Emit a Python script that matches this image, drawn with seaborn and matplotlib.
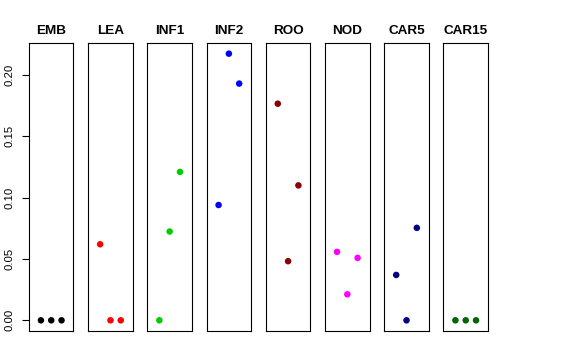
import matplotlib
matplotlib.use("Agg")
import matplotlib.pyplot as plt
import seaborn as sns
import pandas as pd

sns.set_style("white")
plt.rcParams['font.family'] = ['Liberation Sans', 'DejaVu Sans']
plt.rcParams['text.color'] = 'black'
plt.rcParams['axes.labelcolor'] = 'black'
plt.rcParams['xtick.color'] = 'black'
plt.rcParams['ytick.color'] = 'black'

tissues = ["EMB", "LEA", "INF1", "INF2", "ROO", "NOD", "CAR5", "CAR15"]
colors = ["#000000", "#FF0000", "#00CD00", "#0000FF", "#8B0000", "#FF00FF", "#000080", "#006400"]
replicate = [1, 2, 3]
emb = [0.0, 0.0, 0.0]
lea = [0.062, 0.0, 0.0]
inf1 = [0.0, 0.0724, 0.121]
inf2 = [0.094, 0.2174, 0.193]
roo = [0.1766, 0.0482, 0.110]
nod = [0.0558, 0.0212, 0.0509]
car5 = [0.037, 0.0, 0.0754]
car15 = [0.0, 0.0, 0.0]
values = [emb, lea, inf1, inf2, roo, nod, car5, car15]

yticks = [0.00, 0.05, 0.10, 0.15, 0.20]
ytick_labels = ["0.00", "0.05", "0.10", "0.15", "0.20"]

fig, axes = plt.subplots(1, 8, figsize=(5.76, 3.6), dpi=100, sharey=True)
fig.subplots_adjust(left=0.0503, right=0.8472, top=0.8806, bottom=0.0806, wspace=0.33)

for i, ax in enumerate(axes):
    df = pd.DataFrame({"x": replicate, "y": values[i]})
    sns.scatterplot(data=df, x="x", y="y", ax=ax, color=colors[i], s=22,
                    edgecolor="none", linewidth=0, legend=False)
    ax.set_xlim(-0.16, 4.16)
    ax.set_ylim(-0.0087, 0.2261)
    ax.set_xticks([])
    ax.set_xlabel("")
    ax.set_ylabel("")
    ax.set_title(tissues[i], fontsize=9.7, fontweight="bold", pad=6.5, color="black")
    for sp in ax.spines.values():
        sp.set_visible(True)
        sp.set_color("black")
        sp.set_linewidth(0.8)
    if i == 0:
        ax.set_yticks(yticks)
        ax.set_yticklabels(ytick_labels, rotation=90, va="center", fontsize=8.2, color="black")
        ax.tick_params(axis="y", left=True, length=5, width=0.8, pad=5.5, color="black")
    else:
        ax.tick_params(axis="y", left=False, labelleft=False)

fig.savefig("out.png", dpi=100)
